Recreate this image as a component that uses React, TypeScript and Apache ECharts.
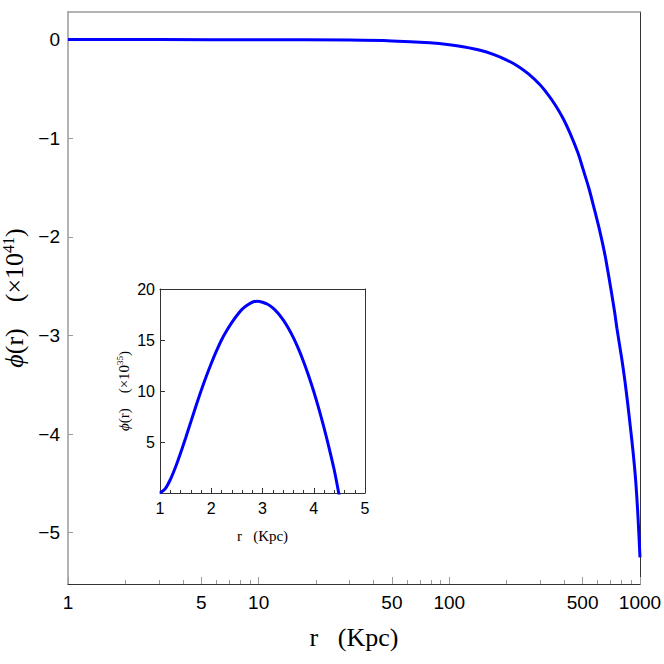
import React, { useEffect, useRef } from "react";
import * as echarts from "echarts";

// Main panel: phi(r) in units of 1e41, r in Kpc (log axis)
const mainR = [1, 3, 10, 30, 50, 79, 100, 120, 145, 170, 200, 230, 260, 298, 330, 360, 394, 430, 473, 502, 540, 578, 615, 653, 680, 708, 737, 757, 800, 832, 862, 894, 922, 949, 975, 1000];
const mainPhi = [0, 0, -0.001, -0.005, -0.013, -0.033, -0.052, -0.075, -0.108, -0.15, -0.207, -0.272, -0.348, -0.455, -0.56, -0.665, -0.795, -0.95, -1.15, -1.31, -1.51, -1.73, -1.94, -2.17, -2.36, -2.56, -2.77, -2.93, -3.22, -3.45, -3.69, -3.96, -4.2, -4.47, -4.82, -5.25];

// Inset: phi(r) in units of 1e35, r in Kpc
const insetR = [1, 1.1, 1.2, 1.3, 1.4, 1.5, 1.6, 1.7, 1.8, 1.9, 2.0, 2.1, 2.2, 2.3, 2.4, 2.5, 2.6, 2.7, 2.8, 2.9, 3.0, 3.1, 3.2, 3.3, 3.4, 3.5, 3.6, 3.7, 3.8, 3.9, 4.0, 4.1, 4.2, 4.3, 4.4, 4.5];
const insetPhi = [0, 0.4, 1.3, 2.5, 3.9, 5.4, 6.95, 8.5, 10.0, 11.4, 12.7, 13.9, 15.0, 15.9, 16.7, 17.4, 18.0, 18.4, 18.7, 18.8, 18.7, 18.5, 18.15, 17.65, 17.0, 16.2, 15.25, 14.15, 12.9, 11.5, 9.95, 8.25, 6.4, 4.4, 2.25, -0.35];

const mainXLabels = [1, 5, 10, 50, 100, 500, 1000];
const mainXMinor = [2, 3, 4, 6, 7, 8, 9, 20, 30, 40, 60, 70, 80, 90, 200, 300, 400, 600, 700, 800, 900];
const mainYLabels = [-5, -4, -3, -2, -1, 0];

const SANS = "'Liberation Sans', Arial, sans-serif";
const SERIF = "'Liberation Serif', 'Times New Roman', serif";
const GRAY = "#9a9a9a";
const DARK = "#333333";

export default function App() {
  const ref = useRef<HTMLDivElement>(null);
  useEffect(() => {
    document.body.style.margin = "0";
    const chart = echarts.init(ref.current!, null, { renderer: "svg" });
    const minus = (v: number) => String(v).replace("-", "\u2212");
    const mainGrid = { left: 68, top: 12, width: 572, height: 572, outerBoundsMode: "none", containLabel: false };
    const hidden = { axisLine: { show: false }, axisTick: { show: false }, axisLabel: { show: false }, splitLine: { show: false } };
    chart.setOption({
      animation: false,
      backgroundColor: "#fff",
      grid: [
        { ...mainGrid },
        { left: 160, top: 289, width: 205, height: 204, show: true, backgroundColor: "#fff", borderWidth: 0, outerBoundsMode: "none", containLabel: false },
        { ...mainGrid },
      ],
      xAxis: [
        {
          type: "log", logBase: 10, min: 1, max: 1000, gridIndex: 0, position: "bottom",
          axisLine: { show: true, onZero: false, lineStyle: { color: DARK, width: 1 } },
          axisTick: { show: true, inside: true, length: 7, lineStyle: { color: GRAY }, customValues: mainXLabels },
          axisLabel: { customValues: mainXLabels, fontSize: 19, color: "#000", fontFamily: SANS, margin: 9, formatter: (v: number) => String(v) },
          splitLine: { show: false },
          name: "r   (Kpc)", nameLocation: "middle", nameGap: 40,
          nameTextStyle: { fontFamily: SERIF, fontSize: 26, color: "#000" },
        },
        {
          type: "log", logBase: 10, min: 1, max: 1000, gridIndex: 0, position: "top",
          axisLine: { show: true, onZero: false, lineStyle: { color: GRAY, width: 1.5 } },
          axisTick: { show: false }, axisLabel: { show: false }, splitLine: { show: false },
        },
        {
          type: "value", min: 1, max: 5, interval: 1, gridIndex: 1, position: "bottom",
          axisLine: { show: true, onZero: false, lineStyle: { color: DARK, width: 1 } },
          axisTick: { show: true, inside: true, length: 5, lineStyle: { color: DARK } },
          minorTick: { show: true, splitNumber: 5, length: 3, lineStyle: { color: DARK } },
          axisLabel: { fontSize: 16, color: "#000", fontFamily: SANS, margin: 7 },
          splitLine: { show: false },
          name: "r   (Kpc)", nameLocation: "middle", nameGap: 35,
          nameTextStyle: { fontFamily: SERIF, fontSize: 15, color: "#000" },
        },
        {
          type: "value", min: 1, max: 5, interval: 1, gridIndex: 1, position: "top",
          axisLine: { show: true, onZero: false, lineStyle: { color: DARK, width: 1 } },
          axisTick: { show: false }, axisLabel: { show: false }, splitLine: { show: false },
        },
        {
          type: "log", logBase: 10, min: 1, max: 1000, gridIndex: 2, position: "bottom",
          axisLine: { show: false, onZero: false },
          axisTick: { show: true, inside: true, length: 4, lineStyle: { color: GRAY }, customValues: mainXMinor },
          axisLabel: { show: false },
          splitLine: { show: false },
        },
      ],
      yAxis: [
        {
          type: "value", min: -5.52, max: 0.28, gridIndex: 0, position: "left",
          axisLine: { show: true, onZero: false, lineStyle: { color: GRAY, width: 1.5 } },
          axisTick: { show: true, inside: true, length: 5, lineStyle: { color: GRAY }, customValues: mainYLabels },
          axisLabel: { customValues: mainYLabels, fontSize: 19, color: "#000", fontFamily: SANS, margin: 8, formatter: (v: number) => minus(v) },
          splitLine: { show: false },
          name: "{i|\u03d5}{t|(r)    (\u00d710}{s|41}{t|)}",
          nameLocation: "middle", nameRotate: 90, nameGap: 36,
          nameTextStyle: {
            rich: {
              i: { fontFamily: SERIF, fontStyle: "italic", fontSize: 26, color: "#000", lineHeight: 28 },
              t: { fontFamily: SERIF, fontSize: 26, color: "#000", lineHeight: 28 },
              s: { fontFamily: SERIF, fontSize: 16, color: "#000", lineHeight: 16, verticalAlign: "top" },
            },
          },
        },
        {
          type: "value", min: -5.52, max: 0.28, gridIndex: 0, position: "right",
          axisLine: { show: true, onZero: false, lineStyle: { color: DARK, width: 1 } },
          axisTick: { show: false }, axisLabel: { show: false }, splitLine: { show: false },
        },
        {
          type: "value", min: 0, max: 20, interval: 5, gridIndex: 1, position: "left",
          axisLine: { show: true, onZero: false, lineStyle: { color: DARK, width: 1 } },
          axisTick: { show: true, inside: true, length: 5, lineStyle: { color: DARK } },
          axisLabel: { fontSize: 16, color: "#000", fontFamily: SANS, margin: 5, formatter: (v: number) => (v === 0 ? "" : String(v)) },
          splitLine: { show: false },
          name: "{i|\u03d5}{t|(r)    (\u00d710}{s|35}{t|)}",
          nameLocation: "middle", nameRotate: 90, nameGap: 27,
          nameTextStyle: {
            rich: {
              i: { fontFamily: SERIF, fontStyle: "italic", fontSize: 15, color: "#000", lineHeight: 18 },
              t: { fontFamily: SERIF, fontSize: 15, color: "#000", lineHeight: 18 },
              s: { fontFamily: SERIF, fontSize: 9, color: "#000", lineHeight: 9, verticalAlign: "top" },
            },
          },
        },
        {
          type: "value", min: 0, max: 20, interval: 5, gridIndex: 1, position: "right",
          axisLine: { show: true, onZero: false, lineStyle: { color: DARK, width: 1 } },
          axisTick: { show: false }, axisLabel: { show: false }, splitLine: { show: false },
        },
        { type: "value", min: 0, max: 1, gridIndex: 2, position: "left", ...hidden },
      ],
      series: [
        {
          type: "line", xAxisIndex: 0, yAxisIndex: 0, showSymbol: false, smooth: 0.3,
          lineStyle: { color: "#0000ff", width: 3 },
          data: mainR.map((r, i) => [r, mainPhi[i]]),
          clip: true,
        },
        {
          type: "line", xAxisIndex: 2, yAxisIndex: 2, showSymbol: false, smooth: 0.3,
          lineStyle: { color: "#0000ff", width: 3 },
          data: insetR.map((r, i) => [r, insetPhi[i]]),
          clip: true,
        },
      ],
    });
    return () => chart.dispose();
  }, []);
  return <div ref={ref} style={{ width: 664, height: 664 }} />;
}
